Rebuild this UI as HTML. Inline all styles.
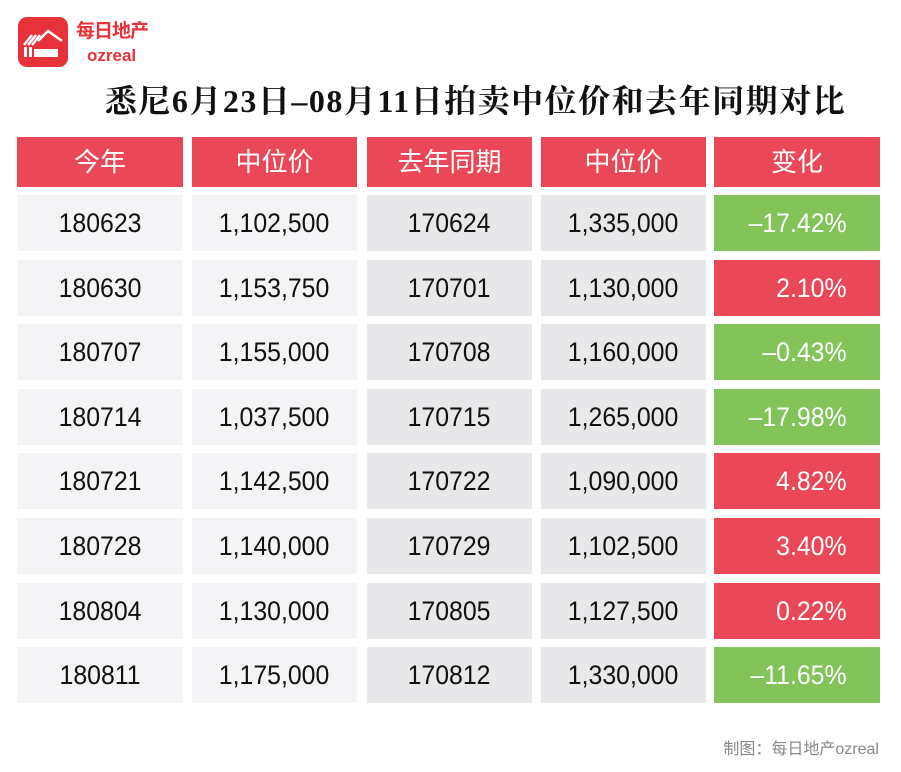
<!DOCTYPE html>
<html><head><meta charset="utf-8"><style>
body{margin:0;width:901px;height:772px;background:#fff;position:relative;overflow:hidden;font-family:"Liberation Sans","Noto Sans CJK SC",sans-serif}
.c{position:absolute;height:56px;line-height:56px;text-align:center;font-size:27px;color:#111}
.c span{display:inline-block;transform:scaleX(0.92)}
.g span,.r span{transform-origin:right center}
.h{background:#ea4858;color:#fff;height:50px;line-height:50px;font-size:26px}
.a{background:#f4f4f6}.b{background:#e8e8ea}
.g{background:#84c35a;color:#fff;text-align:right;padding-right:33px;box-sizing:border-box}
.r{background:#ea4858;color:#fff;text-align:right;padding-right:33px;box-sizing:border-box}
</style></head><body>
<div style="position:absolute;left:18px;top:17px;width:50px;height:50px;border-radius:9px;background:#e8323a"></div>
<svg style="position:absolute;left:18px;top:17px" width="50" height="50"><path d="M6 28 L14 18 M10 28 L18 18 M14 28 L22 18 M20 24 L30 14 L44 24" stroke="#fff" stroke-width="2.5" fill="none"/><rect x="6" y="30" width="3" height="10" fill="#fff"/><rect x="11" y="30" width="3" height="10" fill="#fff"/><rect x="16" y="32" width="24" height="8" fill="#fff"/></svg>
<div style="position:absolute;left:76px;top:21px;font-size:19px;line-height:22px;color:#e8323a;font-weight:bold;letter-spacing:-1px">每日地产</div>
<div style="position:absolute;left:87px;top:47px;font-size:17px;line-height:18px;color:#e8323a;font-weight:bold">ozreal</div>
<div style="position:absolute;left:0;width:901px;top:76px;text-align:center;font-family:'Liberation Serif','Noto Serif CJK SC',serif;font-weight:bold;font-size:32px;letter-spacing:1.5px;color:#111;padding-left:50px;box-sizing:border-box">悉尼6月23日–08月11日拍卖中位价和去年同期对比</div>
<div class="c h" style="left:17px;width:166px;top:137px">今年</div>
<div class="c h" style="left:192px;width:165px;top:137px">中位价</div>
<div class="c h" style="left:367px;width:165px;top:137px">去年同期</div>
<div class="c h" style="left:541px;width:165px;top:137px">中位价</div>
<div class="c h" style="left:714px;width:166px;top:137px">变化</div>
<div id="rows"></div>
<div style="position:absolute;right:22px;top:735px;font-size:16px;color:#888">制图：每日地产ozreal</div>
<script>
var d=[["180623","1,102,500","170624","1,335,000","–17.42%","g"],["180630","1,153,750","170701","1,130,000","2.10%","r"],["180707","1,155,000","170708","1,160,000","–0.43%","g"],["180714","1,037,500","170715","1,265,000","–17.98%","g"],["180721","1,142,500","170722","1,090,000","4.82%","r"],["180728","1,140,000","170729","1,102,500","3.40%","r"],["180804","1,130,000","170805","1,127,500","0.22%","r"],["180811","1,175,000","170812","1,330,000","–11.65%","g"]];
var h="",L=[[17,166,"a"],[192,165,"a"],[367,165,"b"],[541,165,"b"],[714,166,""]];
d.forEach(function(r,i){var t=195+i*64.6;for(var j=0;j<5;j++){var cl=j==4?r[5]:L[j][2];h+='<div class="c '+cl+'" style="left:'+L[j][0]+'px;width:'+L[j][1]+'px;top:'+t+'px"><span>'+r[j]+'</span></div>';}});
document.getElementById("rows").innerHTML=h;
</script>
</body></html>
